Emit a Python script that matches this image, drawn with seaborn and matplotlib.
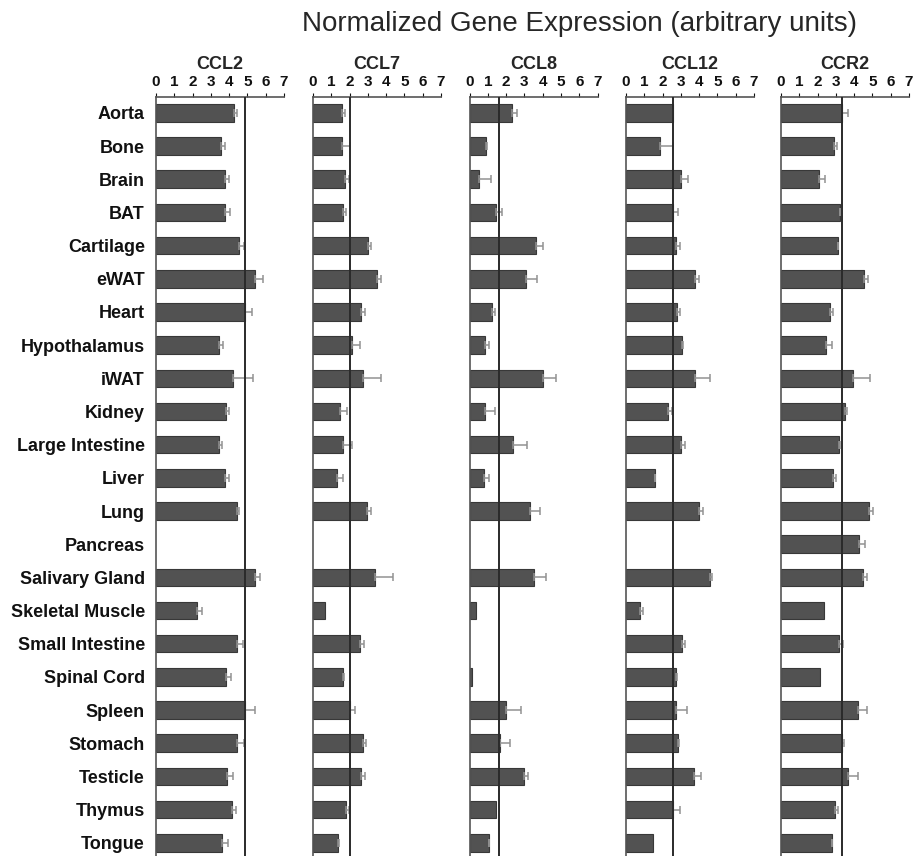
import numpy as np
import pandas as pd
import matplotlib
matplotlib.use("Agg")
import matplotlib.pyplot as plt
import seaborn as sns

tissues = ["Aorta", "Bone", "Brain", "BAT", "Cartilage", "eWAT", "Heart",
           "Hypothalamus", "iWAT", "Kidney", "Large Intestine", "Liver", "Lung",
           "Pancreas", "Salivary Gland", "Skeletal Muscle", "Small Intestine",
           "Spinal Cord", "Spleen", "Stomach", "Testicle", "Thymus", "Tongue"]

genes = ["CCL2", "CCL7", "CCL8", "CCL12", "CCR2"]
nan = np.nan

ccl2 = [4.29, 3.53, 3.76, 3.76, 4.56, 5.39, 4.86, 3.47, 4.20, 3.82, 3.45, 3.76, 4.41,
        nan, 5.42, 2.22, 4.41, 3.83, 4.86, 4.41, 3.89, 4.18, 3.62]
ccl2_err = [0.14, 0.22, 0.25, 0.27, 0.23, 0.47, 0.38, 0.22, 1.12, 0.16, 0.18, 0.25, 0.14,
            nan, 0.25, 0.31, 0.33, 0.27, 0.56, 0.42, 0.34, 0.20, 0.31]

ccl7 = [1.57, 1.61, 1.77, 1.64, 3.03, 3.48, 2.64, 2.15, 2.71, 1.50, 1.62, 1.30, 2.94,
        nan, 3.39, 0.65, 2.56, 1.66, 2.02, 2.71, 2.62, 1.82, 1.35]
ccl7_err = [0.18, 0.42, 0.22, 0.16, 0.13, 0.23, 0.20, 0.40, 0.99, 0.34, 0.54, 0.36, 0.22,
            nan, 0.97, 0.0, 0.25, 0.03, 0.29, 0.20, 0.23, 0.16, 0.05]

ccl8 = [2.31, 0.92, 0.51, 1.46, 3.62, 3.07, 1.21, 0.85, 4.01, 0.83, 2.40, 0.80, 3.31,
        nan, 3.51, 0.36, nan, 0.16, 1.99, 1.66, 2.97, 1.46, 1.05]
ccl8_err = [0.27, 0.03, 0.67, 0.31, 0.42, 0.63, 0.16, 0.24, 0.70, 0.54, 0.74, 0.27, 0.52,
            nan, 0.70, 0.0, nan, 0.0, 0.85, 0.58, 0.22, 0.0, 0.03]

ccl12 = [2.55, 1.84, 3.02, 2.58, 2.73, 3.76, 2.80, 3.05, 3.76, 2.31, 3.02, 1.58, 3.98,
         nan, 4.58, 0.76, 3.05, 2.75, 2.75, 2.87, 3.73, 2.58, 1.45]
ccl12_err = [0.03, 0.71, 0.35, 0.24, 0.20, 0.22, 0.18, 0.09, 0.82, 0.18, 0.22, 0.03, 0.24,
             nan, 0.13, 0.16, 0.16, 0.03, 0.60, 0.05, 0.35, 0.38, 0.0]

ccr2 = [3.31, 2.89, 2.06, 3.20, 3.09, 4.56, 2.69, 2.48, 3.94, 3.49, 3.15, 2.82, 4.81,
        4.25, 4.47, 2.35, 3.17, 2.13, 4.20, 3.33, 3.69, 2.93, 2.78]
ccr2_err = [0.34, 0.18, 0.33, 0.05, 0.03, 0.22, 0.18, 0.29, 0.90, 0.11, 0.10, 0.18, 0.20,
            0.33, 0.22, 0.0, 0.24, 0.0, 0.49, 0.14, 0.50, 0.20, 0.03]

ref_lines = [4.87, 2.04, 1.61, 2.58, 3.31]

values = [ccl2, ccl7, ccl8, ccl12, ccr2]
errors = [ccl2_err, ccl7_err, ccl8_err, ccl12_err, ccr2_err]

sns.set_style("white")
plt.rcParams["font.family"] = ["Liberation Sans", "DejaVu Sans"]

fig = plt.figure(figsize=(9.14, 8.56), dpi=100)
W, H = 914, 856
left0 = [156, 313, 469.5, 626, 781]
pw = 128
top = 97

for i, g in enumerate(genes):
    ax = fig.add_axes([left0[i] / W, 0, pw / W, 1 - top / H])
    df = pd.DataFrame({"tissue": tissues, "value": values[i]})
    sns.barplot(data=df, x="value", y="tissue", order=tissues, orient="h",
                color="#525252", saturation=1, width=0.53, ax=ax,
                edgecolor="#383838", linewidth=0.8)
    v = np.array(values[i])
    e = np.array(errors[i])
    ok = ~np.isnan(v) & (np.nan_to_num(e) > 0.02)
    ypos = np.arange(len(tissues))
    ax.errorbar(v[ok], ypos[ok], xerr=[np.zeros(ok.sum()), e[ok]], fmt="none",
                ecolor="#929292", elinewidth=1.1, capsize=3, capthick=1.1, zorder=1)
    ax.axvline(ref_lines[i], color="#2a2a2a", lw=1.4, zorder=3)
    ax.set_xlim(0, 7)
    ax.set_ylim(len(tissues) - 0.6, -0.48)
    ax.xaxis.tick_top()
    ax.set_xticks(range(8))
    ax.set_xticklabels([str(t) for t in range(8)], fontweight="bold", fontsize=11)
    ax.tick_params(axis="x", direction="out", length=3, width=0.8, pad=3, colors="#111111")
    ax.tick_params(axis="y", length=0)
    ax.set_xlabel("")
    ax.set_ylabel("")
    for s in ["right", "bottom"]:
        ax.spines[s].set_visible(False)
    for s in ["top", "left"]:
        ax.spines[s].set_color("#555555")
        ax.spines[s].set_linewidth(1.2)
    if i == 0:
        ax.set_yticklabels(tissues, fontweight="bold", fontsize=13)
        ax.tick_params(axis="y", pad=8, colors="#111111")
    else:
        ax.set_yticklabels([])
    ax.set_title(g, fontweight="bold", fontsize=13, pad=20)

fig.text(580 / W, 1 - 24 / H, "Normalized Gene Expression (arbitrary units)",
         ha="center", va="center", fontsize=20)

fig.savefig("out.png", dpi=100)
